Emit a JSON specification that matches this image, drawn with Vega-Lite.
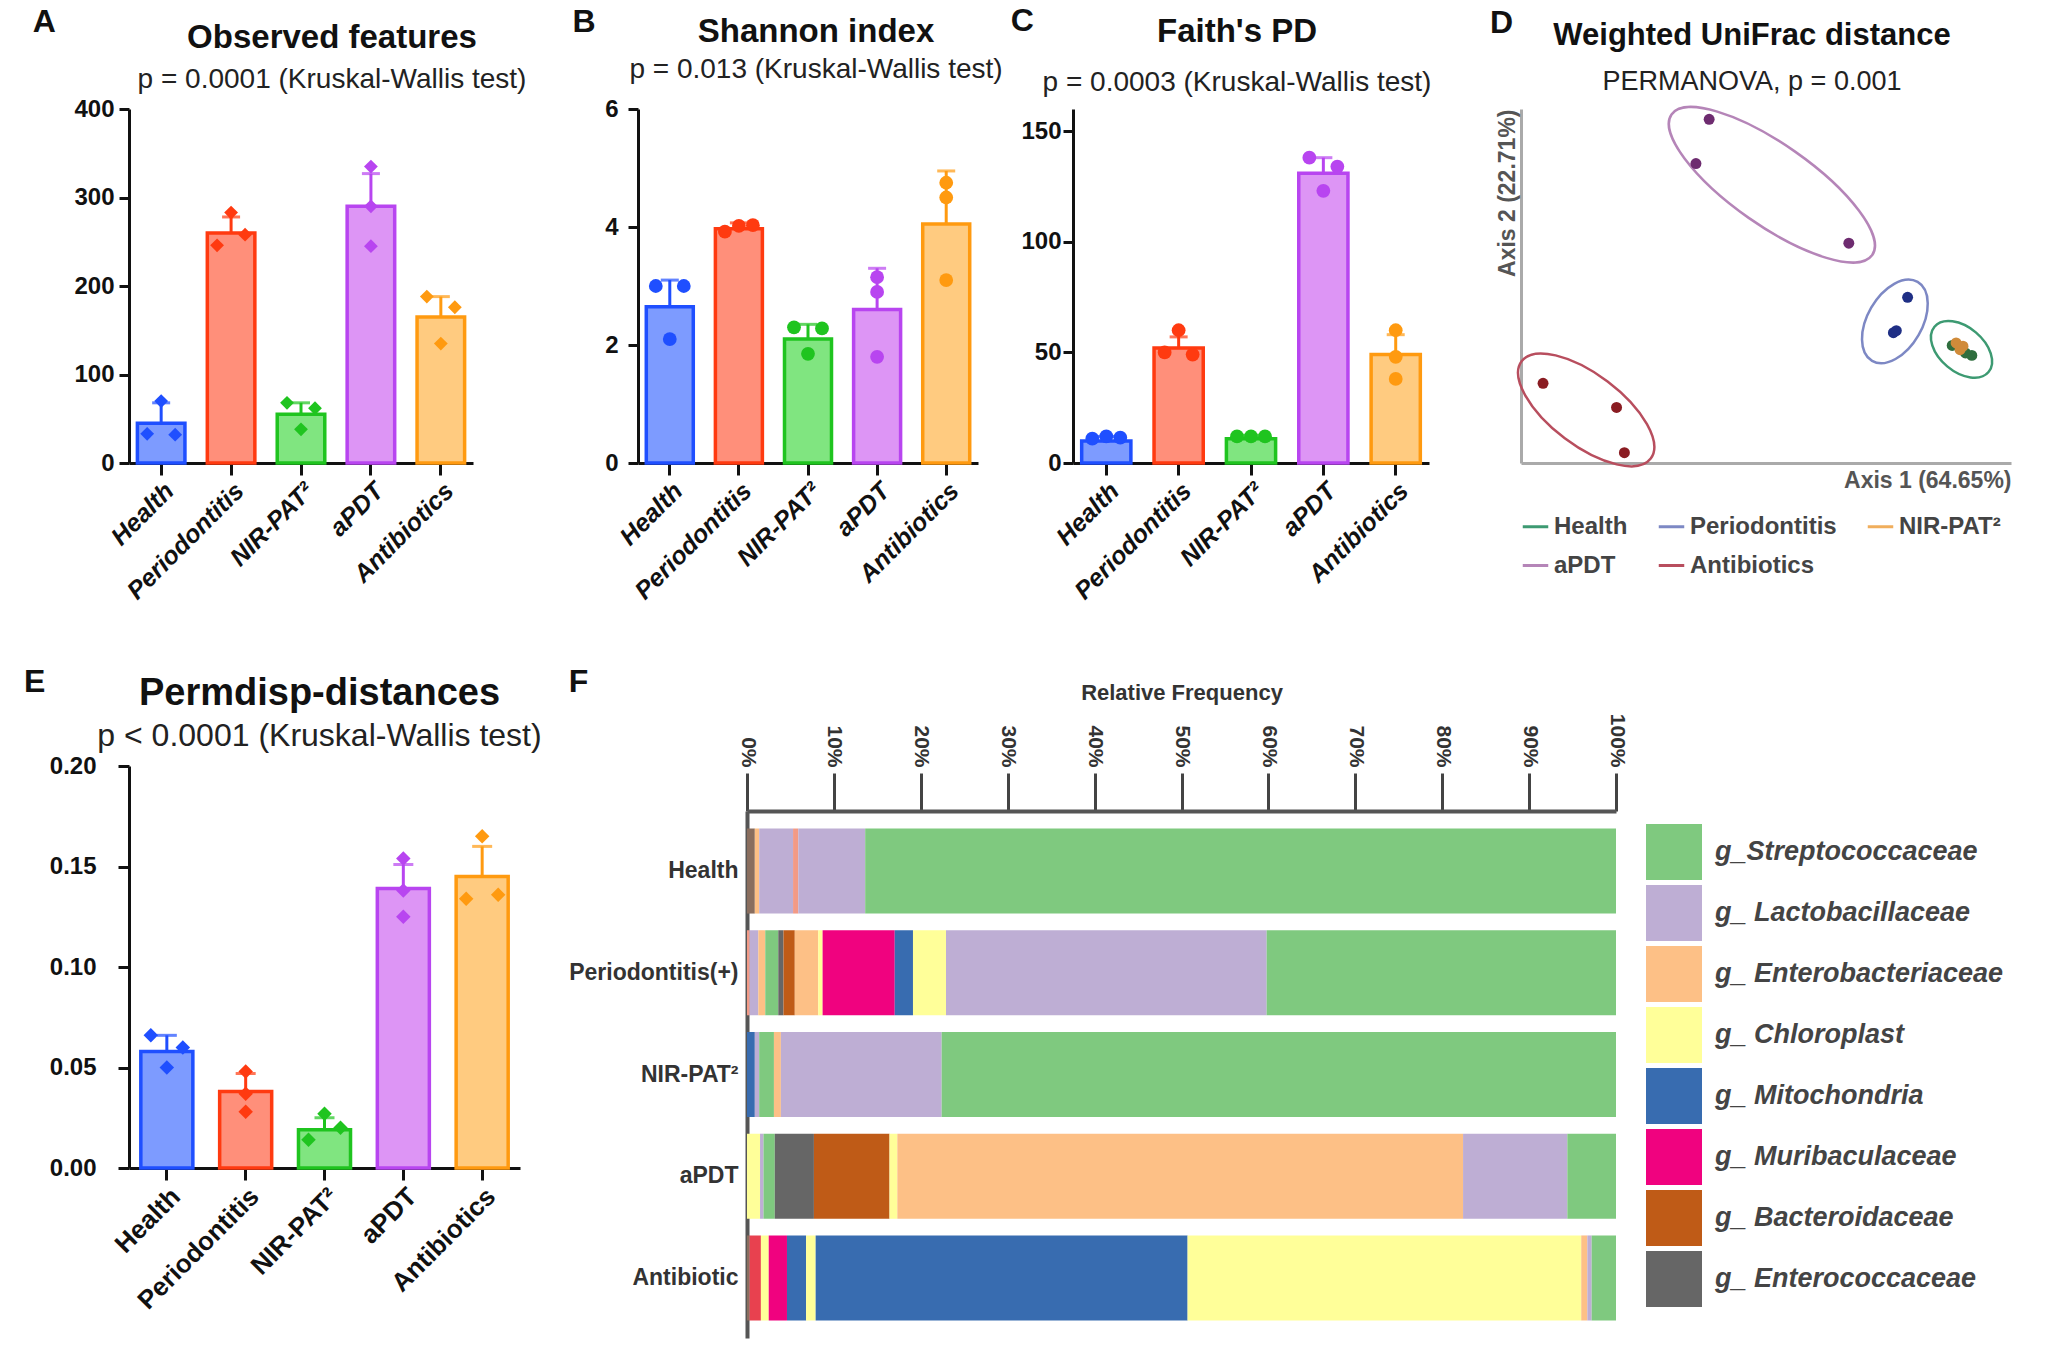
{
"$schema": "https://vega.github.io/schema/vega-lite/v6.json",
"background": "white",
"padding": {"left": 23, "top": 5, "right": 4, "bottom": 4},
"config": {
  "font": "Liberation Sans",
  "view": {"stroke": null},
  "axis": {"grid": false, "domainColor": "#111", "tickColor": "#111", "labelColor": "#111", "labelFontWeight": "bold", "titleColor": "#111", "labelFont": "Liberation Sans", "titleFont": "Liberation Sans"},
  "title": {"font": "Liberation Sans", "subtitleFont": "Liberation Sans", "color": "#111", "subtitleColor": "#222"},
  "legend": {"labelFont": "Liberation Sans"}
},
"datasets": {
  "a_sum": [
    {"group": "Health", "mean": 45, "hi": 68},
    {"group": "Periodontitis", "mean": 260, "hi": 278},
    {"group": "NIR-PAT²", "mean": 55, "hi": 68},
    {"group": "aPDT", "mean": 290, "hi": 327},
    {"group": "Antibiotics", "mean": 165, "hi": 188}
  ],
  "a_pts": [
    {"group": "Health", "rep": "C", "value": 70}, {"group": "Health", "rep": "L", "value": 33}, {"group": "Health", "rep": "R", "value": 32},
    {"group": "Periodontitis", "rep": "C", "value": 283}, {"group": "Periodontitis", "rep": "L", "value": 246}, {"group": "Periodontitis", "rep": "R", "value": 258},
    {"group": "NIR-PAT²", "rep": "L", "value": 68}, {"group": "NIR-PAT²", "rep": "C", "value": 38}, {"group": "NIR-PAT²", "rep": "R", "value": 62},
    {"group": "aPDT", "rep": "C", "value": 335}, {"group": "aPDT", "rep": "C", "value": 290}, {"group": "aPDT", "rep": "C", "value": 245},
    {"group": "Antibiotics", "rep": "L", "value": 188}, {"group": "Antibiotics", "rep": "R", "value": 176}, {"group": "Antibiotics", "rep": "C", "value": 135}
  ],
  "b_sum": [
    {"group": "Health", "mean": 2.65, "hi": 3.1},
    {"group": "Periodontitis", "mean": 3.97, "hi": 4.07},
    {"group": "NIR-PAT²", "mean": 2.1, "hi": 2.35},
    {"group": "aPDT", "mean": 2.6, "hi": 3.3},
    {"group": "Antibiotics", "mean": 4.05, "hi": 4.95}
  ],
  "b_pts": [
    {"group": "Health", "rep": "L", "value": 3.0}, {"group": "Health", "rep": "R", "value": 3.0}, {"group": "Health", "rep": "C", "value": 2.1},
    {"group": "Periodontitis", "rep": "L", "value": 3.92}, {"group": "Periodontitis", "rep": "C", "value": 4.02}, {"group": "Periodontitis", "rep": "R", "value": 4.03},
    {"group": "NIR-PAT²", "rep": "L", "value": 2.3}, {"group": "NIR-PAT²", "rep": "R", "value": 2.28}, {"group": "NIR-PAT²", "rep": "C", "value": 1.85},
    {"group": "aPDT", "rep": "C", "value": 3.15}, {"group": "aPDT", "rep": "C", "value": 2.9}, {"group": "aPDT", "rep": "C", "value": 1.8},
    {"group": "Antibiotics", "rep": "C", "value": 4.75}, {"group": "Antibiotics", "rep": "C", "value": 4.5}, {"group": "Antibiotics", "rep": "C", "value": 3.1}
  ],
  "c_sum": [
    {"group": "Health", "mean": 10, "hi": 12},
    {"group": "Periodontitis", "mean": 52, "hi": 57},
    {"group": "NIR-PAT²", "mean": 11, "hi": 12.5},
    {"group": "aPDT", "mean": 131, "hi": 138},
    {"group": "Antibiotics", "mean": 49, "hi": 58}
  ],
  "c_pts": [
    {"group": "Health", "rep": "L", "value": 11}, {"group": "Health", "rep": "C", "value": 12}, {"group": "Health", "rep": "R", "value": 11.5},
    {"group": "Periodontitis", "rep": "C", "value": 60}, {"group": "Periodontitis", "rep": "L", "value": 50}, {"group": "Periodontitis", "rep": "R", "value": 49},
    {"group": "NIR-PAT²", "rep": "L", "value": 12}, {"group": "NIR-PAT²", "rep": "C", "value": 12}, {"group": "NIR-PAT²", "rep": "R", "value": 12},
    {"group": "aPDT", "rep": "L", "value": 138}, {"group": "aPDT", "rep": "R", "value": 134}, {"group": "aPDT", "rep": "C", "value": 123},
    {"group": "Antibiotics", "rep": "C", "value": 60}, {"group": "Antibiotics", "rep": "C", "value": 48}, {"group": "Antibiotics", "rep": "C", "value": 38}
  ],
  "e_sum": [
    {"group": "Health", "mean": 0.058, "hi": 0.066},
    {"group": "Periodontitis", "mean": 0.038, "hi": 0.047},
    {"group": "NIR-PAT²", "mean": 0.019, "hi": 0.025},
    {"group": "aPDT", "mean": 0.139, "hi": 0.151},
    {"group": "Antibiotics", "mean": 0.145, "hi": 0.160}
  ],
  "e_pts": [
    {"group": "Health", "rep": "L", "value": 0.066}, {"group": "Health", "rep": "R", "value": 0.060}, {"group": "Health", "rep": "C", "value": 0.050},
    {"group": "Periodontitis", "rep": "C", "value": 0.048}, {"group": "Periodontitis", "rep": "C", "value": 0.037}, {"group": "Periodontitis", "rep": "C", "value": 0.028},
    {"group": "NIR-PAT²", "rep": "C", "value": 0.027}, {"group": "NIR-PAT²", "rep": "R", "value": 0.020}, {"group": "NIR-PAT²", "rep": "L", "value": 0.014},
    {"group": "aPDT", "rep": "C", "value": 0.154}, {"group": "aPDT", "rep": "C", "value": 0.138}, {"group": "aPDT", "rep": "C", "value": 0.125},
    {"group": "Antibiotics", "rep": "C", "value": 0.165}, {"group": "Antibiotics", "rep": "L", "value": 0.134}, {"group": "Antibiotics", "rep": "R", "value": 0.136}
  ],
  "d_ell": [
    {"grp": "aPDT", "cx": 51.2, "cy": 78.6, "major": 50, "angle": 35},
    {"grp": "Antibiotics", "cx": 13.3, "cy": 15.0, "major": 33, "angle": 37},
    {"grp": "Periodontitis", "cx": 76.3, "cy": 40.0, "major": 18.6, "angle": 120},
    {"grp": "Health", "cx": 89.9, "cy": 32.1, "major": 14.4, "angle": 40}
  ],
  "d_pts": [
    {"grp": "aPDT", "x": 38.4, "y": 97.1}, {"grp": "aPDT", "x": 35.7, "y": 84.6}, {"grp": "aPDT", "x": 66.9, "y": 62.1},
    {"grp": "Antibiotics", "x": 4.5, "y": 22.5}, {"grp": "Antibiotics", "x": 19.5, "y": 15.7}, {"grp": "Antibiotics", "x": 21.1, "y": 2.9},
    {"grp": "Periodontitis", "x": 78.9, "y": 46.8}, {"grp": "Periodontitis", "x": 76.0, "y": 36.8}, {"grp": "Periodontitis", "x": 76.6, "y": 37.4},
    {"grp": "Health", "x": 88.0, "y": 33.2}, {"grp": "Health", "x": 90.7, "y": 31.1}, {"grp": "Health", "x": 92.0, "y": 30.4},
    {"grp": "NIR-PAT²", "x": 88.8, "y": 33.9}, {"grp": "NIR-PAT²", "x": 89.6, "y": 32.0}, {"grp": "NIR-PAT²", "x": 90.2, "y": 33.0}
  ],
  "f": [
    {"row": "Health", "k": 1, "taxon": "other2", "pct": 0.9},
    {"row": "Health", "k": 2, "taxon": "g_ Enterobacteriaceae", "pct": 0.5},
    {"row": "Health", "k": 3, "taxon": "g_ Lactobacillaceae", "pct": 3.9},
    {"row": "Health", "k": 4, "taxon": "other3", "pct": 0.6},
    {"row": "Health", "k": 5, "taxon": "g_ Lactobacillaceae", "pct": 7.7},
    {"row": "Health", "k": 6, "taxon": "g_Streptococcaceae", "pct": 86.4},
    {"row": "Periodontitis(+)", "k": 1, "taxon": "other3", "pct": 0.3},
    {"row": "Periodontitis(+)", "k": 2, "taxon": "g_ Lactobacillaceae", "pct": 1.0},
    {"row": "Periodontitis(+)", "k": 3, "taxon": "g_ Enterobacteriaceae", "pct": 0.8},
    {"row": "Periodontitis(+)", "k": 4, "taxon": "g_Streptococcaceae", "pct": 1.5},
    {"row": "Periodontitis(+)", "k": 5, "taxon": "g_ Enterococcaceae", "pct": 0.6},
    {"row": "Periodontitis(+)", "k": 6, "taxon": "g_ Bacteroidaceae", "pct": 1.3},
    {"row": "Periodontitis(+)", "k": 7, "taxon": "g_ Enterobacteriaceae", "pct": 2.7},
    {"row": "Periodontitis(+)", "k": 8, "taxon": "g_ Chloroplast", "pct": 0.5},
    {"row": "Periodontitis(+)", "k": 9, "taxon": "g_ Muribaculaceae", "pct": 8.3},
    {"row": "Periodontitis(+)", "k": 10, "taxon": "g_ Mitochondria", "pct": 2.1},
    {"row": "Periodontitis(+)", "k": 11, "taxon": "g_ Chloroplast", "pct": 3.8},
    {"row": "Periodontitis(+)", "k": 12, "taxon": "g_ Lactobacillaceae", "pct": 36.9},
    {"row": "Periodontitis(+)", "k": 13, "taxon": "g_Streptococcaceae", "pct": 40.2},
    {"row": "NIR-PAT²", "k": 1, "taxon": "g_ Mitochondria", "pct": 0.9},
    {"row": "NIR-PAT²", "k": 2, "taxon": "g_ Lactobacillaceae", "pct": 0.5},
    {"row": "NIR-PAT²", "k": 3, "taxon": "g_Streptococcaceae", "pct": 1.7},
    {"row": "NIR-PAT²", "k": 4, "taxon": "g_ Enterobacteriaceae", "pct": 0.8},
    {"row": "NIR-PAT²", "k": 5, "taxon": "g_ Lactobacillaceae", "pct": 18.5},
    {"row": "NIR-PAT²", "k": 6, "taxon": "g_Streptococcaceae", "pct": 77.6},
    {"row": "aPDT", "k": 1, "taxon": "g_ Chloroplast", "pct": 1.5},
    {"row": "aPDT", "k": 2, "taxon": "g_ Lactobacillaceae", "pct": 0.4},
    {"row": "aPDT", "k": 3, "taxon": "g_Streptococcaceae", "pct": 1.3},
    {"row": "aPDT", "k": 4, "taxon": "g_ Enterococcaceae", "pct": 4.5},
    {"row": "aPDT", "k": 5, "taxon": "g_ Bacteroidaceae", "pct": 8.7},
    {"row": "aPDT", "k": 6, "taxon": "g_ Chloroplast", "pct": 0.9},
    {"row": "aPDT", "k": 7, "taxon": "g_ Enterobacteriaceae", "pct": 65.1},
    {"row": "aPDT", "k": 8, "taxon": "g_ Lactobacillaceae", "pct": 12.0},
    {"row": "aPDT", "k": 9, "taxon": "g_Streptococcaceae", "pct": 5.6},
    {"row": "Antibiotic", "k": 1, "taxon": "other2", "pct": 0.3},
    {"row": "Antibiotic", "k": 2, "taxon": "other1", "pct": 1.3},
    {"row": "Antibiotic", "k": 3, "taxon": "g_ Chloroplast", "pct": 0.9},
    {"row": "Antibiotic", "k": 4, "taxon": "g_ Muribaculaceae", "pct": 2.1},
    {"row": "Antibiotic", "k": 5, "taxon": "g_ Mitochondria", "pct": 2.2},
    {"row": "Antibiotic", "k": 6, "taxon": "g_ Chloroplast", "pct": 1.1},
    {"row": "Antibiotic", "k": 7, "taxon": "g_ Mitochondria", "pct": 42.8},
    {"row": "Antibiotic", "k": 8, "taxon": "g_ Chloroplast", "pct": 45.3},
    {"row": "Antibiotic", "k": 9, "taxon": "g_ Enterobacteriaceae", "pct": 0.7},
    {"row": "Antibiotic", "k": 10, "taxon": "g_ Lactobacillaceae", "pct": 0.5},
    {"row": "Antibiotic", "k": 11, "taxon": "g_Streptococcaceae", "pct": 2.8}
  ]
},
"resolve": {"scale": {"color": "independent", "fill": "independent", "stroke": "independent", "shape": "independent", "size": "independent", "angle": "independent"}},
"spacing": 62,
"vconcat": [
{
 "concat": [
  {
   "title": {"text": "A", "orient": "left", "anchor": "end", "angle": 0, "fontSize": 32, "fontWeight": "bold", "offset": 18, "baseline": "top", "align": "left", "dy": -15},
   "vconcat": [{
    "width": 344, "height": 354,
    "title": {"text": "Observed features", "subtitle": "p = 0.0001 (Kruskal-Wallis test)", "fontSize": 33, "fontWeight": "bold", "subtitleFontSize": 28, "subtitlePadding": 11, "offset": 3, "anchor": "middle", "frame": "group", "dx": 31},
    "layer": [
     {"data": {"name": "a_sum"}, "mark": {"type": "bar", "strokeWidth": 3.5},
      "encoding": {
       "x": {"field": "group", "type": "nominal", "sort": ["Health", "Periodontitis", "NIR-PAT²", "aPDT", "Antibiotics"], "scale": {"paddingInner": 0.32, "paddingOuter": 0.12}, "axis": {"title": null, "labelAngle": -45, "labelFontSize": 25, "labelFontStyle": "italic", "tickSize": 12, "tickWidth": 3, "domainWidth": 3, "labelPadding": 3}},
       "y": {"field": "mean", "type": "quantitative", "scale": {"domain": [0, 400]}, "axis": {"title": null, "values": [0, 100, 200, 300, 400], "labelFontSize": 24, "tickSize": 10, "tickWidth": 3, "domainWidth": 3, "labelPadding": 5}},
       "fill": {"field": "group", "type": "nominal", "scale": {"domain": ["Health", "Periodontitis", "NIR-PAT²", "aPDT", "Antibiotics"], "range": ["#7d9bff", "#ff8f7a", "#80e580", "#dd95f5", "#ffcb80"]}, "legend": null},
       "stroke": {"field": "group", "type": "nominal", "scale": {"domain": ["Health", "Periodontitis", "NIR-PAT²", "aPDT", "Antibiotics"], "range": ["#1f4fff", "#ff3a10", "#1fc41f", "#b845f0", "#ff9a10"]}, "legend": null}
      }},
     {"data": {"name": "a_sum"}, "mark": {"type": "rule", "strokeWidth": 3},
      "encoding": {
       "x": {"field": "group", "type": "nominal", "sort": ["Health", "Periodontitis", "NIR-PAT²", "aPDT", "Antibiotics"]},
       "y": {"field": "mean", "type": "quantitative"}, "y2": {"field": "hi"},
       "color": {"field": "group", "type": "nominal", "scale": {"domain": ["Health", "Periodontitis", "NIR-PAT²", "aPDT", "Antibiotics"], "range": ["#1f4fff", "#ff3a10", "#1fc41f", "#b845f0", "#ff9a10"]}, "legend": null}
      }},
     {"data": {"name": "a_sum"}, "mark": {"type": "tick", "thickness": 3, "size": 18},
      "encoding": {"x": {"field": "group", "type": "nominal", "sort": ["Health", "Periodontitis", "NIR-PAT²", "aPDT", "Antibiotics"]}, "y": {"field": "hi", "type": "quantitative"}, "color": {"field": "group", "type": "nominal", "legend": null}}},
     {"data": {"name": "a_pts"}, "transform": [{"filter": "datum.rep === 'L'"}], "mark": {"type": "point", "filled": true, "shape": "diamond", "size": 190, "opacity": 1, "xOffset": -14},
      "encoding": {"x": {"field": "group", "type": "nominal", "sort": ["Health", "Periodontitis", "NIR-PAT²", "aPDT", "Antibiotics"]}, "y": {"field": "value", "type": "quantitative"}, "color": {"field": "group", "type": "nominal", "legend": null}}},
     {"data": {"name": "a_pts"}, "transform": [{"filter": "datum.rep === 'C'"}], "mark": {"type": "point", "filled": true, "shape": "diamond", "size": 190, "opacity": 1},
      "encoding": {"x": {"field": "group", "type": "nominal", "sort": ["Health", "Periodontitis", "NIR-PAT²", "aPDT", "Antibiotics"]}, "y": {"field": "value", "type": "quantitative"}, "color": {"field": "group", "type": "nominal", "legend": null}}},
     {"data": {"name": "a_pts"}, "transform": [{"filter": "datum.rep === 'R'"}], "mark": {"type": "point", "filled": true, "shape": "diamond", "size": 190, "opacity": 1, "xOffset": 14},
      "encoding": {"x": {"field": "group", "type": "nominal", "sort": ["Health", "Periodontitis", "NIR-PAT²", "aPDT", "Antibiotics"]}, "y": {"field": "value", "type": "quantitative"}, "color": {"field": "group", "type": "nominal", "legend": null}}}
    ]
   }]
  },
  {
   "concat": [
    {
     "title": {"text": "B", "orient": "left", "anchor": "end", "angle": 0, "fontSize": 32, "fontWeight": "bold", "offset": 9, "baseline": "top", "align": "left", "dy": -9},
     "vconcat": [{
      "width": 340, "height": 354,
      "title": {"text": "Shannon index", "subtitle": "p = 0.013 (Kruskal-Wallis test)", "fontSize": 33, "fontWeight": "bold", "subtitleFontSize": 28, "subtitlePadding": 7, "offset": 13, "anchor": "middle", "frame": "group", "dx": 8},
      "layer": [
       {"data": {"name": "b_sum"}, "mark": {"type": "bar", "strokeWidth": 3.5},
        "encoding": {
         "x": {"field": "group", "type": "nominal", "sort": ["Health", "Periodontitis", "NIR-PAT²", "aPDT", "Antibiotics"], "scale": {"paddingInner": 0.32, "paddingOuter": 0.12}, "axis": {"title": null, "labelAngle": -45, "labelFontSize": 25, "labelFontStyle": "italic", "tickSize": 12, "tickWidth": 3, "domainWidth": 3, "labelPadding": 3}},
         "y": {"field": "mean", "type": "quantitative", "scale": {"domain": [0, 6]}, "axis": {"title": null, "values": [0, 2, 4, 6], "format": "d", "labelFontSize": 24, "tickSize": 10, "tickWidth": 3, "domainWidth": 3, "labelPadding": 10}},
         "fill": {"field": "group", "type": "nominal", "scale": {"domain": ["Health", "Periodontitis", "NIR-PAT²", "aPDT", "Antibiotics"], "range": ["#7d9bff", "#ff8f7a", "#80e580", "#dd95f5", "#ffcb80"]}, "legend": null},
         "stroke": {"field": "group", "type": "nominal", "scale": {"domain": ["Health", "Periodontitis", "NIR-PAT²", "aPDT", "Antibiotics"], "range": ["#1f4fff", "#ff3a10", "#1fc41f", "#b845f0", "#ff9a10"]}, "legend": null}
        }},
       {"data": {"name": "b_sum"}, "mark": {"type": "rule", "strokeWidth": 3},
        "encoding": {
         "x": {"field": "group", "type": "nominal", "sort": ["Health", "Periodontitis", "NIR-PAT²", "aPDT", "Antibiotics"]},
         "y": {"field": "mean", "type": "quantitative"}, "y2": {"field": "hi"},
         "color": {"field": "group", "type": "nominal", "scale": {"domain": ["Health", "Periodontitis", "NIR-PAT²", "aPDT", "Antibiotics"], "range": ["#1f4fff", "#ff3a10", "#1fc41f", "#b845f0", "#ff9a10"]}, "legend": null}
        }},
       {"data": {"name": "b_sum"}, "mark": {"type": "tick", "thickness": 3, "size": 18},
        "encoding": {"x": {"field": "group", "type": "nominal", "sort": ["Health", "Periodontitis", "NIR-PAT²", "aPDT", "Antibiotics"]}, "y": {"field": "hi", "type": "quantitative"}, "color": {"field": "group", "type": "nominal", "legend": null}}},
       {"data": {"name": "b_pts"}, "transform": [{"filter": "datum.rep === 'L'"}], "mark": {"type": "point", "filled": true, "shape": "circle", "size": 190, "opacity": 1, "xOffset": -14},
        "encoding": {"x": {"field": "group", "type": "nominal", "sort": ["Health", "Periodontitis", "NIR-PAT²", "aPDT", "Antibiotics"]}, "y": {"field": "value", "type": "quantitative"}, "color": {"field": "group", "type": "nominal", "legend": null}}},
       {"data": {"name": "b_pts"}, "transform": [{"filter": "datum.rep === 'C'"}], "mark": {"type": "point", "filled": true, "shape": "circle", "size": 190, "opacity": 1},
        "encoding": {"x": {"field": "group", "type": "nominal", "sort": ["Health", "Periodontitis", "NIR-PAT²", "aPDT", "Antibiotics"]}, "y": {"field": "value", "type": "quantitative"}, "color": {"field": "group", "type": "nominal", "legend": null}}},
       {"data": {"name": "b_pts"}, "transform": [{"filter": "datum.rep === 'R'"}], "mark": {"type": "point", "filled": true, "shape": "circle", "size": 190, "opacity": 1, "xOffset": 14},
        "encoding": {"x": {"field": "group", "type": "nominal", "sort": ["Health", "Periodontitis", "NIR-PAT²", "aPDT", "Antibiotics"]}, "y": {"field": "value", "type": "quantitative"}, "color": {"field": "group", "type": "nominal", "legend": null}}}
      ]
     }]
    },
    {
     "concat": [
      {
       "title": {"text": "C", "orient": "left", "anchor": "end", "angle": 0, "fontSize": 32, "fontWeight": "bold", "offset": -13, "baseline": "top", "align": "left", "dy": -10},
       "vconcat": [{
        "width": 356, "height": 354,
        "title": {"text": "Faith's PD", "subtitle": "p = 0.0003 (Kruskal-Wallis test)", "fontSize": 33, "fontWeight": "bold", "subtitleFontSize": 28, "subtitlePadding": 20, "offset": 12, "anchor": "middle", "frame": "group", "dx": -14},
        "layer": [
         {"data": {"name": "c_sum"}, "mark": {"type": "bar", "strokeWidth": 3.5},
          "encoding": {
           "x": {"field": "group", "type": "nominal", "sort": ["Health", "Periodontitis", "NIR-PAT²", "aPDT", "Antibiotics"], "scale": {"paddingInner": 0.32, "paddingOuter": 0.12}, "axis": {"title": null, "labelAngle": -45, "labelFontSize": 25, "labelFontStyle": "italic", "tickSize": 12, "tickWidth": 3, "domainWidth": 3, "labelPadding": 3}},
           "y": {"field": "mean", "type": "quantitative", "scale": {"domain": [0, 150]}, "axis": {"title": null, "values": [0, 50, 100, 150], "labelFontSize": 24, "tickSize": 10, "tickWidth": 3, "domainWidth": 3, "labelPadding": 2}},
           "fill": {"field": "group", "type": "nominal", "scale": {"domain": ["Health", "Periodontitis", "NIR-PAT²", "aPDT", "Antibiotics"], "range": ["#7d9bff", "#ff8f7a", "#80e580", "#dd95f5", "#ffcb80"]}, "legend": null},
           "stroke": {"field": "group", "type": "nominal", "scale": {"domain": ["Health", "Periodontitis", "NIR-PAT²", "aPDT", "Antibiotics"], "range": ["#1f4fff", "#ff3a10", "#1fc41f", "#b845f0", "#ff9a10"]}, "legend": null}
          }},
         {"data": {"name": "c_sum"}, "mark": {"type": "rule", "strokeWidth": 3},
          "encoding": {
           "x": {"field": "group", "type": "nominal", "sort": ["Health", "Periodontitis", "NIR-PAT²", "aPDT", "Antibiotics"]},
           "y": {"field": "mean", "type": "quantitative"}, "y2": {"field": "hi"},
           "color": {"field": "group", "type": "nominal", "scale": {"domain": ["Health", "Periodontitis", "NIR-PAT²", "aPDT", "Antibiotics"], "range": ["#1f4fff", "#ff3a10", "#1fc41f", "#b845f0", "#ff9a10"]}, "legend": null}
          }},
         {"data": {"name": "c_sum"}, "mark": {"type": "tick", "thickness": 3, "size": 18},
          "encoding": {"x": {"field": "group", "type": "nominal", "sort": ["Health", "Periodontitis", "NIR-PAT²", "aPDT", "Antibiotics"]}, "y": {"field": "hi", "type": "quantitative"}, "color": {"field": "group", "type": "nominal", "legend": null}}},
         {"data": {"name": "c_pts"}, "transform": [{"filter": "datum.rep === 'L'"}], "mark": {"type": "point", "filled": true, "shape": "circle", "size": 190, "opacity": 1, "xOffset": -14},
          "encoding": {"x": {"field": "group", "type": "nominal", "sort": ["Health", "Periodontitis", "NIR-PAT²", "aPDT", "Antibiotics"]}, "y": {"field": "value", "type": "quantitative"}, "color": {"field": "group", "type": "nominal", "legend": null}}},
         {"data": {"name": "c_pts"}, "transform": [{"filter": "datum.rep === 'C'"}], "mark": {"type": "point", "filled": true, "shape": "circle", "size": 190, "opacity": 1},
          "encoding": {"x": {"field": "group", "type": "nominal", "sort": ["Health", "Periodontitis", "NIR-PAT²", "aPDT", "Antibiotics"]}, "y": {"field": "value", "type": "quantitative"}, "color": {"field": "group", "type": "nominal", "legend": null}}},
         {"data": {"name": "c_pts"}, "transform": [{"filter": "datum.rep === 'R'"}], "mark": {"type": "point", "filled": true, "shape": "circle", "size": 190, "opacity": 1, "xOffset": 14},
          "encoding": {"x": {"field": "group", "type": "nominal", "sort": ["Health", "Periodontitis", "NIR-PAT²", "aPDT", "Antibiotics"]}, "y": {"field": "value", "type": "quantitative"}, "color": {"field": "group", "type": "nominal", "legend": null}}}
        ]
       }]
      },
      {
       "title": {"text": "D", "orient": "left", "anchor": "end", "angle": 0, "fontSize": 32, "fontWeight": "bold", "offset": -17, "baseline": "top", "align": "left", "dy": -12},
       "vconcat": [{
        "width": 490, "height": 354,
        "title": {"text": "Weighted UniFrac distance", "subtitle": "PERMANOVA, p = 0.001", "fontSize": 31, "fontWeight": "bold", "subtitleFontSize": 27, "subtitlePadding": 17, "offset": 6, "anchor": "middle", "frame": "group", "dx": -14},
        "layer": [
         {"data": {"name": "d_ell"}, "mark": {"type": "point", "filled": false, "strokeWidth": 2.5, "opacity": 1},
          "encoding": {
           "x": {"field": "cx", "type": "quantitative", "scale": {"domain": [0, 100], "nice": false}, "axis": {"title": "Axis 1 (64.65%)", "titleAnchor": "end", "titleFontSize": 23, "titleFontWeight": "bold", "titleColor": "#555", "labels": false, "ticks": false, "domainColor": "#aaa", "domainWidth": 3, "titlePadding": 6}},
           "y": {"field": "cy", "type": "quantitative", "scale": {"domain": [0, 100], "nice": false}, "axis": {"title": "Axis 2 (22.71%)", "titleAnchor": "end", "titleFontSize": 23, "titleFontWeight": "bold", "titleColor": "#555", "labels": false, "ticks": false, "domainColor": "#aaa", "domainWidth": 3, "titlePadding": 2}},
           "size": {"field": "major", "type": "quantitative", "scale": {"type": "pow", "exponent": 2, "domain": [0, 100], "range": [0, 240100]}, "legend": null},
           "angle": {"field": "angle", "type": "quantitative", "scale": {"domain": [0, 360], "range": [0, 360]}},
           "shape": {"field": "grp", "type": "nominal", "scale": {"domain": ["aPDT", "Antibiotics", "Periodontitis", "Health"], "range": ["M-1,0A1,0.33,0,1,1,1,0A1,0.33,0,1,1,-1,0Z", "M-1,0A1,0.44,0,1,1,1,0A1,0.44,0,1,1,-1,0Z", "M-1,0A1,0.6,0,1,1,1,0A1,0.6,0,1,1,-1,0Z", "M-1,0A1,0.63,0,1,1,1,0A1,0.63,0,1,1,-1,0Z"]}, "legend": null},
           "stroke": {"field": "grp", "type": "nominal", "scale": {"domain": ["Health", "Periodontitis", "NIR-PAT²", "aPDT", "Antibiotics"], "range": ["#3d9a72", "#7d88c4", "#f0ae5c", "#b585b8", "#b84e5e"]},
            "legend": {"title": null, "orient": "bottom", "direction": "horizontal", "columns": 3, "symbolType": "stroke", "symbolStrokeWidth": 3, "symbolSize": 650, "labelFontSize": 24, "labelFontWeight": "bold", "labelColor": "#444", "columnPadding": 24, "rowPadding": 12, "offset": 20}}
          }},
         {"data": {"name": "d_pts"}, "mark": {"type": "point", "filled": true, "shape": "circle", "size": 120, "opacity": 1},
          "encoding": {
           "x": {"field": "x", "type": "quantitative"},
           "y": {"field": "y", "type": "quantitative"},
           "fill": {"field": "grp", "type": "nominal", "scale": {"domain": ["Health", "Periodontitis", "NIR-PAT²", "aPDT", "Antibiotics"], "range": ["#2f6e3e", "#1f2f85", "#d08b3a", "#6e2c70", "#8a1c22"]}, "legend": null}
          }}
        ]
       }]
      }
     ],
     "columns": 2, "align": "none", "spacing": 57,
     "resolve": {"scale": {"color": "independent", "fill": "independent", "stroke": "independent", "shape": "independent", "size": "independent", "angle": "independent"}}
    }
   ],
   "columns": 2, "align": "none", "spacing": 7,
   "resolve": {"scale": {"color": "independent", "fill": "independent", "stroke": "independent", "shape": "independent", "size": "independent", "angle": "independent"}}
  }
 ],
 "columns": 2, "align": "none", "spacing": 45,
 "resolve": {"scale": {"color": "independent", "fill": "independent", "stroke": "independent", "shape": "independent", "size": "independent", "angle": "independent"}}
},
{
 "concat": [
  {
   "title": {"text": "E", "orient": "left", "anchor": "end", "angle": 0, "fontSize": 32, "fontWeight": "bold", "offset": 4, "baseline": "top", "align": "left", "dy": -8},
   "vconcat": [{
    "width": 391, "height": 402,
    "title": {"text": "Permdisp-distances", "subtitle": "p < 0.0001 (Kruskal-Wallis test)", "fontSize": 38, "fontWeight": "bold", "subtitleFontSize": 32, "subtitlePadding": 8, "offset": 2, "anchor": "middle", "frame": "group", "dx": -5},
    "layer": [
     {"data": {"name": "e_sum"}, "mark": {"type": "bar", "strokeWidth": 3.5},
      "encoding": {
       "x": {"field": "group", "type": "nominal", "sort": ["Health", "Periodontitis", "NIR-PAT²", "aPDT", "Antibiotics"], "scale": {"paddingInner": 0.34, "paddingOuter": 0.15}, "axis": {"title": null, "labelAngle": -45, "labelFontSize": 26, "tickSize": 12, "tickWidth": 3, "domainWidth": 3, "labelPadding": 3}},
       "y": {"field": "mean", "type": "quantitative", "scale": {"domain": [0, 0.2]}, "axis": {"title": null, "values": [0, 0.05, 0.1, 0.15, 0.2], "format": ".2f", "labelFontSize": 24, "tickSize": 11, "tickWidth": 3, "domainWidth": 3, "labelPadding": 22}},
       "fill": {"field": "group", "type": "nominal", "scale": {"domain": ["Health", "Periodontitis", "NIR-PAT²", "aPDT", "Antibiotics"], "range": ["#7d9bff", "#ff8f7a", "#80e580", "#dd95f5", "#ffcb80"]}, "legend": null},
       "stroke": {"field": "group", "type": "nominal", "scale": {"domain": ["Health", "Periodontitis", "NIR-PAT²", "aPDT", "Antibiotics"], "range": ["#1f4fff", "#ff3a10", "#1fc41f", "#b845f0", "#ff9a10"]}, "legend": null}
      }},
     {"data": {"name": "e_sum"}, "mark": {"type": "rule", "strokeWidth": 3},
      "encoding": {
       "x": {"field": "group", "type": "nominal", "sort": ["Health", "Periodontitis", "NIR-PAT²", "aPDT", "Antibiotics"]},
       "y": {"field": "mean", "type": "quantitative"}, "y2": {"field": "hi"},
       "color": {"field": "group", "type": "nominal", "scale": {"domain": ["Health", "Periodontitis", "NIR-PAT²", "aPDT", "Antibiotics"], "range": ["#1f4fff", "#ff3a10", "#1fc41f", "#b845f0", "#ff9a10"]}, "legend": null}
      }},
     {"data": {"name": "e_sum"}, "mark": {"type": "tick", "thickness": 3, "size": 20},
      "encoding": {"x": {"field": "group", "type": "nominal", "sort": ["Health", "Periodontitis", "NIR-PAT²", "aPDT", "Antibiotics"]}, "y": {"field": "hi", "type": "quantitative"}, "color": {"field": "group", "type": "nominal", "legend": null}}},
     {"data": {"name": "e_pts"}, "transform": [{"filter": "datum.rep === 'L'"}], "mark": {"type": "point", "filled": true, "shape": "diamond", "size": 210, "opacity": 1, "xOffset": -16},
      "encoding": {"x": {"field": "group", "type": "nominal", "sort": ["Health", "Periodontitis", "NIR-PAT²", "aPDT", "Antibiotics"]}, "y": {"field": "value", "type": "quantitative"}, "color": {"field": "group", "type": "nominal", "legend": null}}},
     {"data": {"name": "e_pts"}, "transform": [{"filter": "datum.rep === 'C'"}], "mark": {"type": "point", "filled": true, "shape": "diamond", "size": 210, "opacity": 1},
      "encoding": {"x": {"field": "group", "type": "nominal", "sort": ["Health", "Periodontitis", "NIR-PAT²", "aPDT", "Antibiotics"]}, "y": {"field": "value", "type": "quantitative"}, "color": {"field": "group", "type": "nominal", "legend": null}}},
     {"data": {"name": "e_pts"}, "transform": [{"filter": "datum.rep === 'R'"}], "mark": {"type": "point", "filled": true, "shape": "diamond", "size": 210, "opacity": 1, "xOffset": 16},
      "encoding": {"x": {"field": "group", "type": "nominal", "sort": ["Health", "Periodontitis", "NIR-PAT²", "aPDT", "Antibiotics"]}, "y": {"field": "value", "type": "quantitative"}, "color": {"field": "group", "type": "nominal", "legend": null}}}
    ]
   }]
  },
  {
   "title": {"text": "F", "orient": "top", "anchor": "start", "fontSize": 32, "fontWeight": "bold", "offset": -18},
   "vconcat": [{
    "width": 869, "height": 572,
    "data": {"name": "f"},
    "mark": {"type": "bar"},
    "encoding": {
     "y": {"field": "row", "type": "nominal", "sort": ["Health", "Periodontitis(+)", "NIR-PAT²", "aPDT", "Antibiotic"], "scale": {"range": [45, 572], "paddingInner": 0.164, "paddingOuter": 0.172}, "axis": {"title": null, "ticks": false, "domainWidth": 4, "domainColor": "#555", "labelFontSize": 23, "labelColor": "#333", "labelPadding": 9}},
     "x": {"field": "pct", "type": "quantitative", "stack": "normalize", "scale": {"domain": [0, 1]}, "axis": {"orient": "top", "offset": -45, "title": "Relative Frequency", "titleFontSize": 22, "titleFontWeight": "bold", "titleColor": "#333", "titlePadding": 9, "format": ".0%", "values": [0, 0.1, 0.2, 0.3, 0.4, 0.5, 0.6, 0.7, 0.8, 0.9, 1], "labelAngle": 90, "labelFontSize": 21, "labelColor": "#333", "tickSize": 38, "tickWidth": 3, "tickColor": "#444", "domainWidth": 4, "domainColor": "#555", "labelPadding": 6}},
     "color": {"field": "taxon", "type": "nominal",
       "scale": {"domain": ["g_Streptococcaceae", "g_ Lactobacillaceae", "g_ Enterobacteriaceae", "g_ Chloroplast", "g_ Mitochondria", "g_ Muribaculaceae", "g_ Bacteroidaceae", "g_ Enterococcaceae", "other1", "other2", "other3"],
                 "range": ["#7fc97f", "#beaed4", "#fdc086", "#ffff99", "#386cb0", "#f0027f", "#bf5b17", "#666666", "#e8414f", "#8a6e5e", "#f29a86"]},
       "legend": {"title": null, "orient": "none", "legendX": 899, "legendY": 58, "values": ["g_Streptococcaceae", "g_ Lactobacillaceae", "g_ Enterobacteriaceae", "g_ Chloroplast", "g_ Mitochondria", "g_ Muribaculaceae", "g_ Bacteroidaceae", "g_ Enterococcaceae"], "symbolType": "square", "symbolSize": 3136, "symbolStrokeWidth": 0, "labelFontSize": 27, "labelFontStyle": "italic", "labelFontWeight": "bold", "labelColor": "#444", "labelLimit": 400, "rowPadding": 5, "labelOffset": 13}},
     "order": {"field": "k", "type": "quantitative"}
    }
   }]
  }
 ],
 "columns": 2, "align": "none", "spacing": 26,
 "resolve": {"scale": {"color": "independent", "fill": "independent", "stroke": "independent"}}
}
]
}
